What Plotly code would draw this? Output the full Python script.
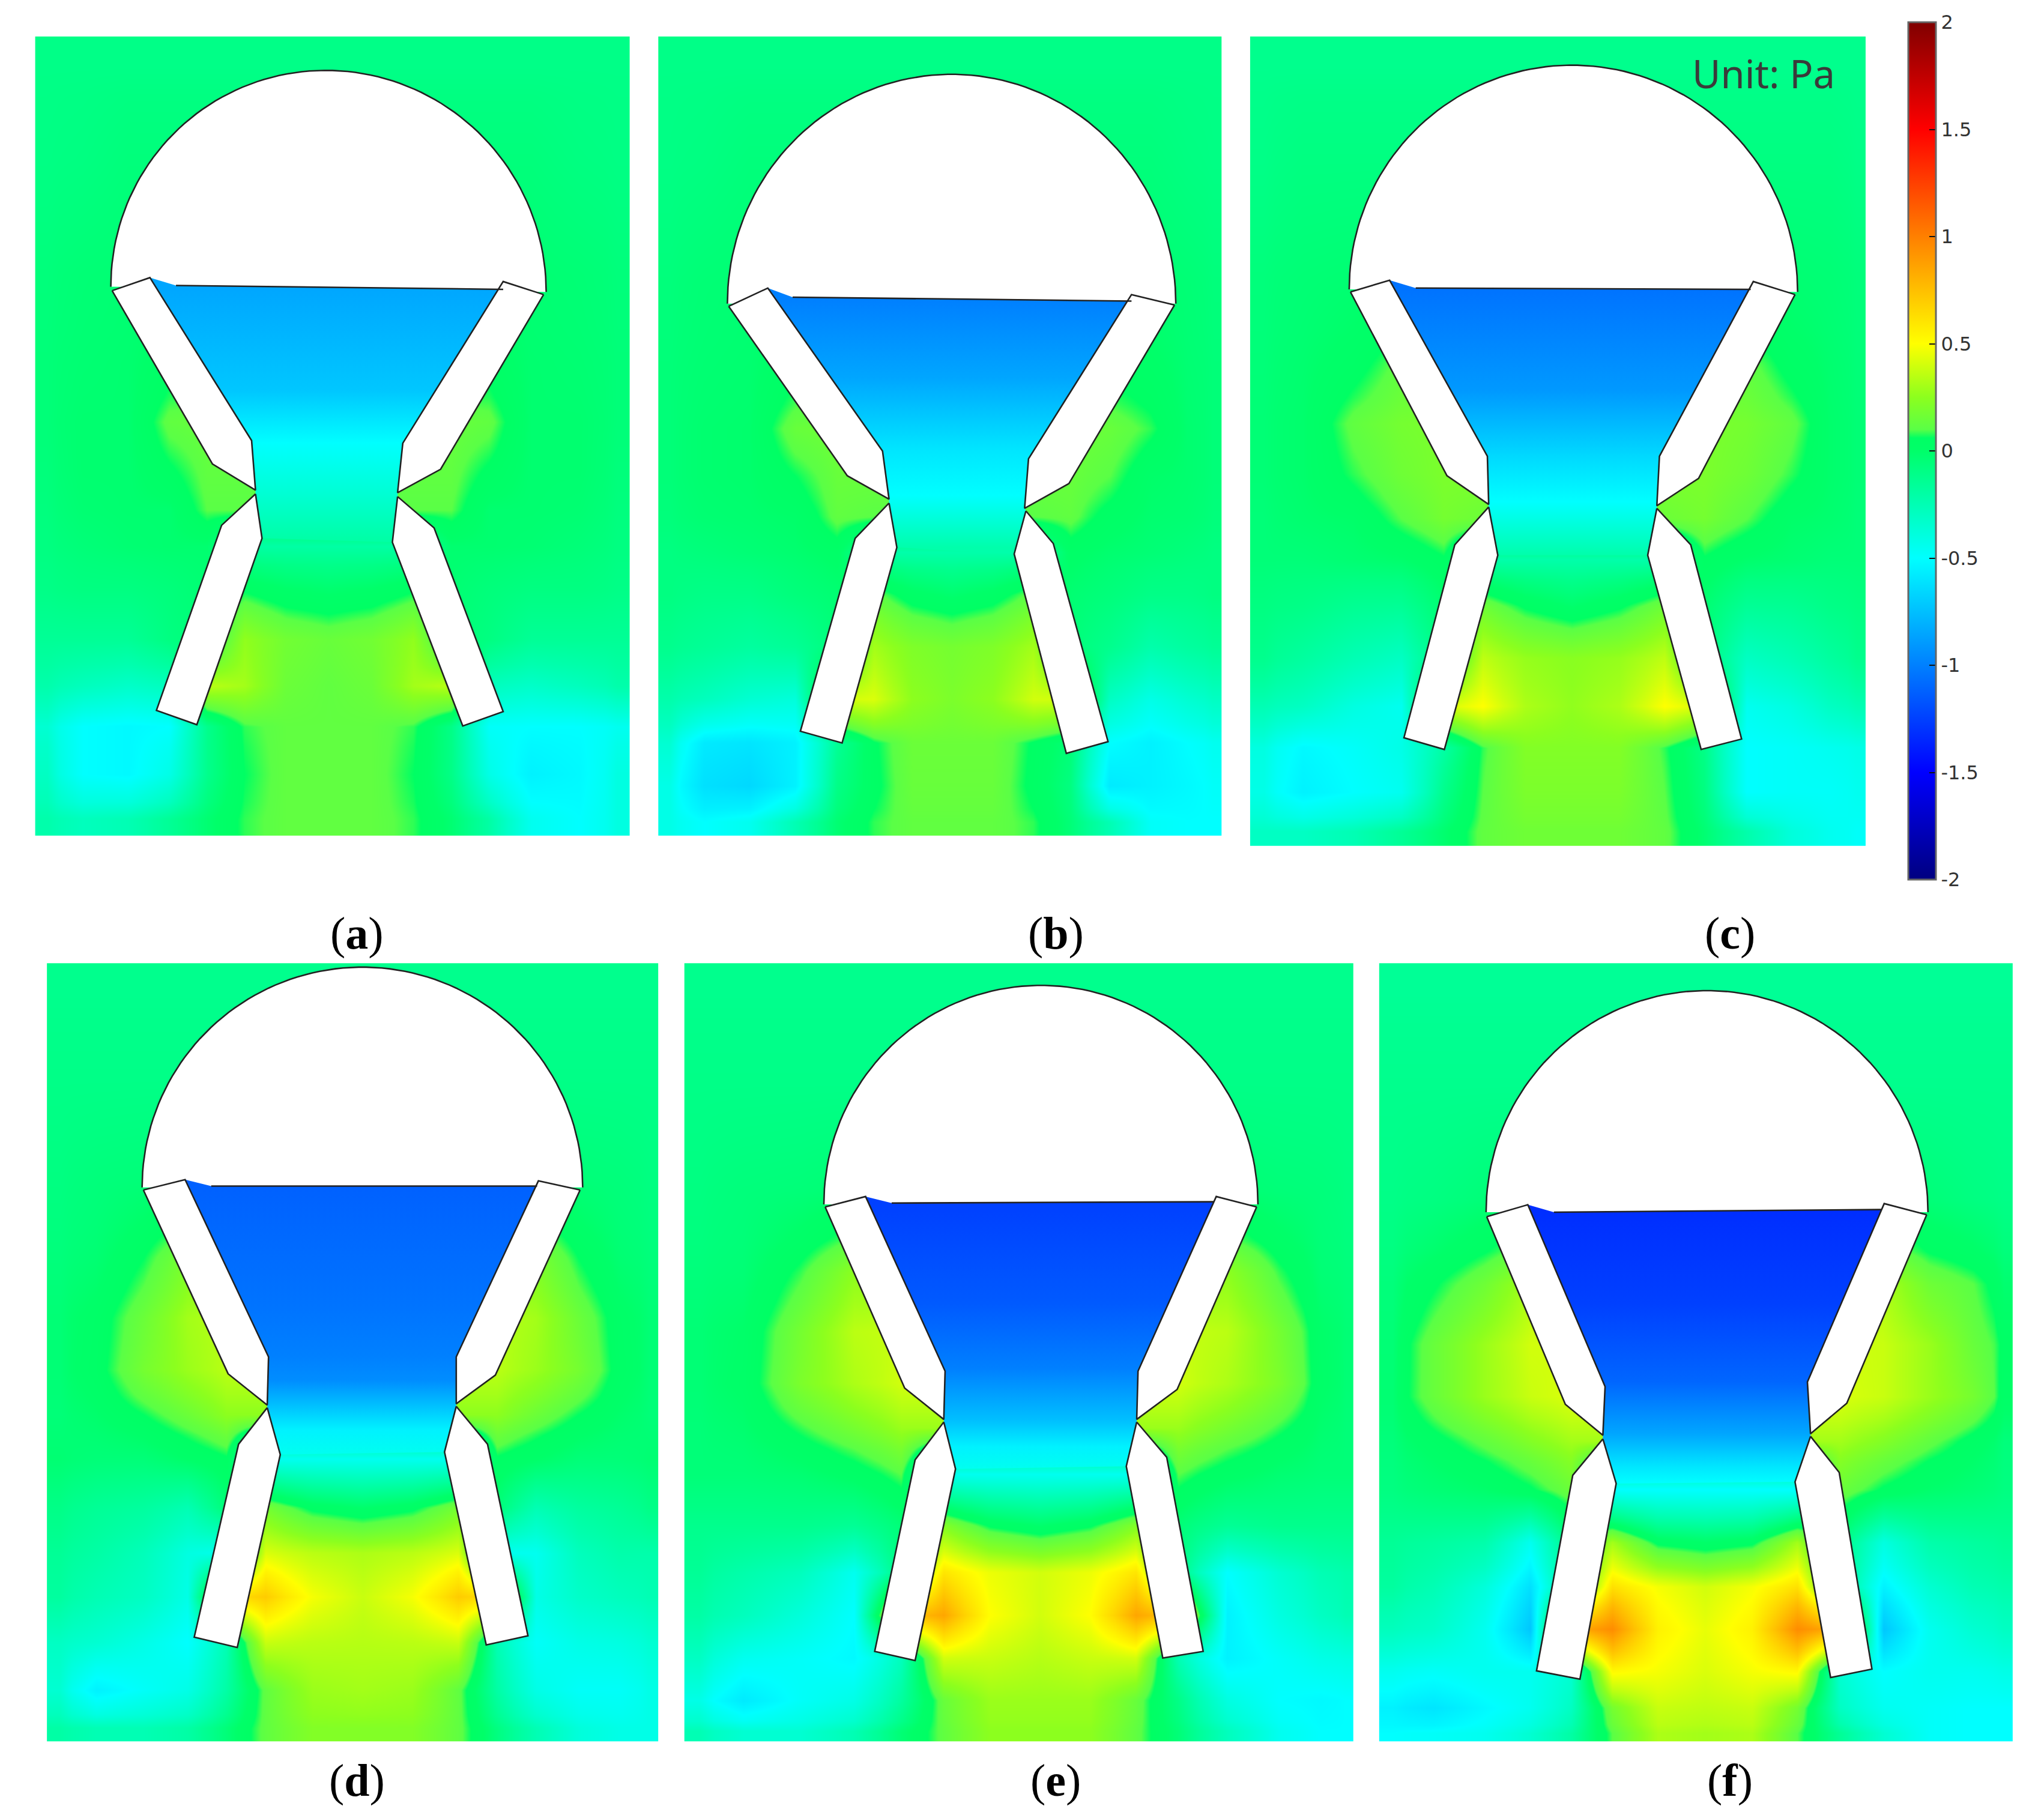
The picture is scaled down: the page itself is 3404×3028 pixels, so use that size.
import numpy as np
import plotly.graph_objects as go

W, H = 3404, 3028
VW = 1568.0
VH = VW * H / W

# Colour scale (value in Pa -> rgb)
CB_VALUES = [-2, -1.5, -1, -0.5, -0.25, 0, 0.06, 0.1, 0.25, 0.5, 1, 1.5, 2]
CB_RGB = [(0,0,128),(0,0,255),(0,128,255),(0,255,255),(0,255,180),(0,255,105),(0,255,100),
          (90,255,70),(140,255,30),(255,255,0),(255,128,0),(255,0,0),(128,0,0)]
TICK_VALUES = [-2, -1.5, -1, -0.5, 0, 0.5, 1, 1.5, 2]
TICK_TEXT = ["-2", "-1.5", "-1", "-0.5", "0", "0.5", "1", "1.5", "2"]
LABELS = ["a", "b", "c", "d", "e", "f"]

# Field grids (hundredths of Pa)
X_A = [27,64,100,130,160,185,220,252,284,320,345,375,405,445,483]
Y_A = [28,120,220,285,325,360,395,415,452,490,530,555,590,641]
F_A = [
[-10,-10,-10,-10,-10,-10,-10,-10,-10,-10,-10,-10,-10,-10,-10],
[-9,-8,-6,-6,-6,-6,-6,-6,-6,-6,-6,-6,-6,-8,-9],
[-6,-4,-3,-3,-3,-3,-3,-3,-3,-3,-3,-3,-3,-4,-6],
[-5,-3,-2,3,3,3,3,3,3,3,3,3,-2,-3,-5],
[-5,-2,-2,12,14,14,14,14,14,14,14,12,-2,-2,-5],
[-6,-2,-2,5,12,12,12,12,12,12,12,5,-2,-2,-6],
[-7,-3,-2,-2,10,10,10,10,10,10,10,-2,-2,-3,-7],
[-8,-5,-3,-2,-2,-20,-20,-20,-20,-20,-2,-2,-3,-5,-8],
[-10,-8,-8,-6,-3,5,0,-2,0,5,-3,-6,-8,-8,-10],
[-15,-15,-15,-8,-4,26,17,14,17,26,-4,-8,-15,-15,-15],
[-22,-28,-32,-28,35,30,15,12,15,30,35,-28,-32,-28,-22],
[-35,-50,-52,-50,-12,8,12,12,12,8,-10,-48,-50,-50,-45],
[-30,-50,-52,-42,-12,6,12,12,12,6,-10,-42,-55,-52,-40],
[-22,-28,-25,-15,-3,8,12,12,12,8,-3,-20,-45,-50,-40],
]
X_B = [505,540,575,610,645,668,700,730,760,795,820,850,885,910,937]
Y_B = [28,120,230,290,330,365,400,420,455,495,540,570,600,641]
F_B = [
[-10,-10,-10,-10,-10,-10,-10,-10,-10,-10,-10,-10,-10,-10,-10],
[-9,-8,-6,-6,-6,-6,-6,-6,-6,-6,-6,-6,-6,-8,-9],
[-6,-4,-3,-2,-2,-2,-2,-2,-2,-2,-2,-2,-3,-4,-6],
[-5,-3,-2,4,4,4,4,4,4,4,4,4,2,-3,-5],
[-5,-2,-1,14,16,16,16,16,16,16,16,14,8,-2,-5],
[-5,-2,-1,6,14,14,14,14,14,14,14,10,0,-2,-5],
[-6,-3,-2,0,12,10,10,10,10,10,12,3,-2,-3,-6],
[-8,-6,-4,-2,2,-22,-22,-22,-22,-22,2,-2,-4,-6,-8],
[-8,-10,-10,-6,-3,12,2,-2,2,12,-3,-6,-10,-10,-8],
[-12,-15,-18,-15,-5,30,21,18,21,30,-5,-12,-22,-18,-15],
[-22,-28,-35,-38,40,42,25,20,25,40,40,-30,-42,-35,-30],
[-35,-58,-60,-55,-15,5,15,15,15,5,-5,-50,-55,-50,-45],
[-42,-62,-65,-55,-10,4,14,14,14,4,-8,-58,-55,-52,-48],
[-42,-50,-45,-25,-3,8,12,12,12,8,-5,-25,-48,-50,-50],
]
X_C = [959,1000,1040,1075,1110,1135,1170,1206,1242,1280,1305,1340,1375,1405,1431]
Y_C = [28,120,222,285,325,365,400,426,465,505,545,572,605,649]
F_C = [
[-12,-12,-12,-12,-12,-12,-12,-12,-12,-12,-12,-12,-12,-12,-12],
[-10,-8,-8,-8,-8,-8,-8,-8,-8,-8,-8,-8,-8,-8,-10],
[-6,-4,-3,-1,-1,-1,-1,-1,-1,-1,-1,-1,-3,-4,-6],
[-5,-2,3,12,12,12,12,12,12,12,12,12,3,-2,-5],
[-4,-1,12,18,20,20,20,20,20,20,20,18,12,-1,-4],
[-4,-1,8,16,20,20,20,20,20,20,20,16,8,-1,-4],
[-5,-2,0,10,18,15,15,15,15,15,18,10,0,-2,-5],
[-5,-5,-3,-1,5,-22,-22,-22,-22,-22,5,-1,-3,-5,-5],
[-8,-10,-14,-15,-3,16,5,-1,5,16,-3,-15,-14,-10,-8],
[-12,-18,-25,-30,-5,36,27,24,27,36,-5,-30,-25,-18,-12],
[-25,-30,-40,-45,40,50,32,26,32,50,40,-45,-40,-30,-25],
[-40,-52,-48,-42,-20,8,22,22,22,8,-10,-50,-48,-45,-42],
[-42,-55,-50,-45,-12,10,20,20,20,10,-8,-50,-48,-48,-45],
[-30,-30,-25,-15,-2,12,16,16,16,12,-3,-22,-38,-45,-48],
]
X_D = [36,75,110,145,175,200,240,278,316,355,380,410,445,475,505]
Y_D = [739,830,910,970,1010,1055,1085,1116,1160,1190,1225,1260,1295,1336]
F_D = [
[-12,-12,-12,-12,-12,-12,-12,-12,-12,-12,-12,-12,-12,-12,-12],
[-10,-10,-10,-10,-10,-10,-10,-10,-10,-10,-10,-10,-10,-10,-10],
[-8,-6,-5,-3,-3,-3,-3,-3,-3,-3,-3,-3,-5,-6,-8],
[-6,-3,6,20,20,20,20,20,20,20,20,20,6,-3,-6],
[-4,2,15,30,35,35,35,35,35,35,35,30,15,2,-4],
[-4,3,18,28,35,35,35,35,35,35,35,28,18,3,-4],
[-5,-1,6,15,25,25,25,25,25,25,25,15,6,-1,-5],
[-3,-5,-5,0,5,-45,-45,-45,-45,-45,5,0,-5,-5,-3],
[-10,-15,-18,-25,-5,18,4,-1,4,18,-5,-25,-18,-15,-10],
[-15,-20,-27,-40,-45,42,35,32,35,42,-45,-45,-28,-22,-22],
[-18,-25,-30,-42,60,70,48,38,48,70,60,-42,-32,-28,-25],
[-30,-35,-42,-50,-25,38,35,34,35,38,-25,-48,-42,-40,-35],
[-35,-55,-48,-42,-20,12,28,30,28,12,-20,-42,-48,-48,-42],
[-20,-25,-25,-20,-5,12,22,22,22,12,-8,-25,-38,-42,-42],
]
X_E = [525,570,615,655,695,720,760,798,836,875,900,940,985,1015,1038]
Y_E = [739,830,923,980,1020,1065,1095,1127,1175,1205,1240,1272,1305,1336]
F_E = [
[-12,-12,-12,-12,-12,-12,-12,-12,-12,-12,-12,-12,-12,-12,-12],
[-10,-10,-10,-10,-10,-10,-10,-10,-10,-10,-10,-10,-10,-10,-10],
[-8,-6,-5,-3,-3,-3,-3,-3,-3,-3,-3,-3,-5,-6,-8],
[-6,-4,8,25,25,25,25,25,25,25,25,25,8,-4,-6],
[-4,0,18,35,38,38,38,38,38,38,38,35,18,0,-4],
[-4,1,20,32,40,40,40,40,40,40,40,32,20,1,-4],
[-5,-2,8,18,28,28,28,28,28,28,28,18,8,-2,-5],
[-5,-5,-3,2,10,-45,-45,-45,-45,-45,10,2,-3,-5,-5],
[-12,-12,-12,-15,-5,22,5,-1,5,22,-5,-15,-12,-12,-12],
[-15,-22,-28,-45,-8,60,46,40,46,60,-8,-50,-35,-25,-22],
[-20,-28,-38,-50,70,85,50,40,50,85,70,-55,-40,-30,-25],
[-30,-45,-48,-52,-28,40,38,34,38,40,-25,-55,-48,-42,-40],
[-42,-58,-48,-42,-18,14,28,28,28,14,-10,-40,-50,-52,-50],
[-25,-35,-35,-25,-4,12,25,25,25,12,-5,-28,-45,-50,-50],
]
X_F = [1058,1100,1140,1175,1205,1235,1272,1308,1344,1380,1410,1445,1480,1515,1544]
Y_F = [739,830,930,990,1030,1075,1105,1138,1190,1215,1250,1285,1310,1336]
F_F = [
[-15,-15,-15,-15,-15,-15,-15,-15,-15,-15,-15,-15,-15,-15,-15],
[-12,-12,-12,-12,-12,-12,-12,-12,-12,-12,-12,-12,-12,-12,-12],
[-10,-8,-5,-3,-3,-3,-3,-3,-3,-3,-3,-3,-5,-8,-10],
[-6,5,16,32,32,32,32,32,32,32,32,32,16,10,-2],
[-4,14,28,40,40,40,40,40,40,40,40,38,28,14,4],
[-3,14,28,38,42,42,42,42,42,42,42,38,28,18,2],
[-6,3,12,22,30,30,30,30,30,30,30,22,12,3,-6],
[-8,-4,-1,5,15,-50,-50,-50,-50,-50,15,5,-1,-4,-8],
[-15,-18,-22,-45,-8,30,4,0,4,30,-8,-40,-22,-18,-15],
[-18,-25,-38,-62,-10,62,48,40,48,62,-10,-55,-35,-25,-22],
[-28,-32,-45,-72,80,95,55,45,55,95,80,-72,-45,-35,-30],
[-45,-48,-45,-45,-35,52,48,42,48,52,-35,-50,-45,-45,-42],
[-55,-60,-52,-45,-30,18,38,36,38,18,-30,-45,-48,-50,-50],
[-50,-48,-45,-35,-20,10,32,30,32,10,-15,-35,-48,-50,-50],
]

# Funnel (liquid) vertical pressure profile: y position and Pa
GY_A = [220,300,340,380,415]
GZ_A = [-0.85,-0.72,-0.5,-0.35,-0.2]
GY_B = [230,290,345,380,420]
GZ_B = [-1.0,-0.85,-0.6,-0.5,-0.22]
GY_C = [222,300,350,385,426]
GZ_C = [-1.05,-0.9,-0.65,-0.5,-0.22]
GY_D = [910,1000,1040,1059,1097,1116]
GZ_D = [-1.12,-1.05,-1.0,-0.95,-0.55,-0.45]
GY_E = [923,1000,1050,1090,1110,1127]
GZ_E = [-1.25,-1.15,-1.0,-0.75,-0.55,-0.45]
GY_F = [930,1000,1060,1100,1125,1138]
GZ_F = [-1.32,-1.25,-1.1,-0.85,-0.6,-0.5]

# Outline of each geometry: dome [left, top, right]; walls; liquid surface
PANELS = {
"a": dict(dome=[(85,220),(252,54),(419,224)],
  ul=[(86,223),(115,213),(193,338),(196,376),(163,356)],
  ll=[(196,379),(201,413),(151,556),(120,545),(170,403)],
  ur=[(417,226),(386,216),(309,340),(305,378),(338,360)],
  lr=[(305,381),(301,416),(355,557),(386,546),(333,405)],
  liq=[(135,219),(386,222)], X=X_A, Y=Y_A, F=F_A, GY=GY_A, GZ=GZ_A),
"b": dict(dome=[(558,233),(730,57),(902,233)],
  ul=[(559,235),(589,221),(677,346),(682,383),(650,365)],
  ll=[(682,386),(688,420),(646,570),(614,561),(656,413)],
  ur=[(901,234),(868,226),(789,352),(786,390),(820,371)],
  lr=[(787,392),(778,425),(818,578),(850,569),(808,417)],
  liq=[(608,228),(868,231)], X=X_B, Y=Y_B, F=F_B, GY=GY_B, GZ=GZ_B),
"c": dict(dome=[(1035,222),(1206,50),(1379,224)],
  ul=[(1036,224),(1066,215),(1141,350),(1142,387),(1110,365)],
  ll=[(1142,389),(1149,426),(1108,575),(1077,566),(1116,418)],
  ur=[(1377,226),(1345,216),(1273,350),(1271,388),(1303,367)],
  lr=[(1271,390),(1264,426),(1305,575),(1336,567),(1297,418)],
  liq=[(1086,221),(1343,222)], X=X_C, Y=Y_C, F=F_C, GY=GY_C, GZ=GZ_C),
"d": dict(dome=[(109,911),(278,742),(447,911)],
  ul=[(110,913),(142,905),(206,1041),(205,1078),(175,1054)],
  ll=[(205,1080),(215,1116),(182,1264),(149,1256),(183,1108)],
  ur=[(445,913),(413,906),(350,1041),(350,1077),(380,1055)],
  lr=[(350,1079),(341,1114),(373,1262),(405,1255),(374,1108)],
  liq=[(162,910),(412,910)], X=X_D, Y=Y_D, F=F_D, GY=GY_D, GZ=GZ_D),
"e": dict(dome=[(632,924),(798,756),(965,924)],
  ul=[(633,926),(664,918),(725,1052),(724,1089),(694,1065)],
  ll=[(724,1091),(733,1127),(702,1274),(671,1267),(702,1120)],
  ur=[(964,926),(933,918),(873,1052),(872,1089),(903,1066)],
  lr=[(872,1091),(864,1125),(892,1272),(923,1267),(895,1118)],
  liq=[(684,923),(931,922)], X=X_E, Y=Y_E, F=F_E, GY=GY_E, GZ=GZ_E),
"f": dict(dome=[(1140,930),(1308,760),(1479,930)],
  ul=[(1140.5,933.5),(1172,924.3),(1231.3,1063.8),(1229.6,1101.2),(1200.8,1077.4)],
  ll=[(1229.6,1104),(1239.8,1138.2),(1212,1288.3),(1178.7,1281.9),(1206.5,1131.8)],
  ur=[(1478,932),(1445.4,923.4),(1386.5,1060.3),(1388.9,1100),(1416.7,1076.6)],
  lr=[(1388.9,1102),(1377,1136.9),(1404.3,1287),(1436,1280.6),(1410.9,1129.7)],
  liq=[(1192,930),(1443.2,928)], X=X_F, Y=Y_F, F=F_F, GY=GY_F, GZ=GZ_F),
}
LABEL_POS = {"a":(274,716),"b":(810,716),"c":(1327,716),"d":(274,1366),"e":(810,1366),"f":(1327,1366)}

def z2rgb(v):
    c = [np.interp(v, CB_VALUES, [p[i] for p in CB_RGB]) for i in range(3)]
    return "rgb(%d,%d,%d)" % tuple(int(round(t)) for t in c)

colorscale = [[(v + 2) / 4, "rgb(%d,%d,%d)" % c] for v, c in zip(CB_VALUES, CB_RGB)]

def edges(c):
    c = list(c)
    return [c[0]] + [(a + b) / 2 for a, b in zip(c[:-1], c[1:])] + [c[-1]]

def polys(*ps):
    xs, ys = [], []
    for p in ps:
        q = list(p) + [p[0]]
        xs += [a for a, _ in q] + [None]
        ys += [b for _, b in q] + [None]
    return xs, ys

fig = go.Figure()
LINE = "#222222"
LW = 2.6
for key in LABELS:
    p = PANELS[key]
    fig.add_trace(go.Heatmap(x=edges(p["X"]), y=edges(p["Y"]), z=np.array(p["F"]) / 100.0,
                             coloraxis="coloraxis", zsmooth="best", hoverinfo="skip"))
    (lx, ly), (tx, ty), (rx, ry) = p["dome"]
    t = np.linspace(0, np.pi, 90)
    cx = (lx + rx) / 2
    ax = cx - (rx - lx) / 2 * np.cos(t)
    base = ly + (ry - ly) * (ax - lx) / (rx - lx)
    ay = base - ((ly + ry) / 2 - ty) * np.sin(t)
    fig.add_trace(go.Scatter(x=ax, y=ay, mode="lines", fill="toself", fillcolor="white",
                             line=dict(color=LINE, width=LW), hoverinfo="skip", showlegend=False))
    ul, ll, ur, lr = p["ul"], p["ll"], p["ur"], p["lr"]
    liq = p["liq"]
    funnel = [ul[1], liq[0], liq[1], ur[2], ur[3], lr[0], lr[1], ll[1], ll[0], ul[3], ul[2]]
    fx, fy = polys(funnel)
    y0, y1 = p["GY"][0], p["GY"][-1]
    stops = [[(y - y0) / (y1 - y0), z2rgb(z)] for y, z in zip(p["GY"], p["GZ"])]
    fig.add_trace(go.Scatter(x=fx[:-1], y=fy[:-1], mode="none", fill="toself",
                             fillgradient=dict(type="vertical", colorscale=stops, start=y0, stop=y1),
                             hoverinfo="skip", showlegend=False))
    wx, wy = polys(ul, ll, ur, lr)
    fig.add_trace(go.Scatter(x=wx, y=wy, mode="lines", fill="toself", fillcolor="white",
                             line=dict(color=LINE, width=LW), hoverinfo="skip", showlegend=False))
    fig.add_trace(go.Scatter(x=[liq[0][0], liq[1][0]], y=[liq[0][1], liq[1][1]],
                             mode="lines", line=dict(color=LINE, width=LW), hoverinfo="skip", showlegend=False))

annotations = [dict(x=LABEL_POS[k][0], y=LABEL_POS[k][1], xref="x", yref="y", text="(<b>%s</b>)" % k,
                    showarrow=False, font=dict(family="Liberation Serif", size=76, color="black"))
               for k in LABELS]
annotations.append(dict(x=1353, y=56, xref="x", yref="y", text="Unit: Pa", showarrow=False,
                        font=dict(family="Noto Sans", size=65, color="#3a3a3a")))

fig.update_layout(
    width=W, height=H, paper_bgcolor="white", plot_bgcolor="white",
    margin=dict(l=0, r=0, t=0, b=0, pad=0, autoexpand=False), showlegend=False,
    xaxis=dict(range=[0, VW], visible=False, fixedrange=True),
    yaxis=dict(range=[VH, 0], visible=False, fixedrange=True),
    coloraxis=dict(cmin=-2, cmax=2, colorscale=colorscale, colorbar=dict(
        x=1464 / VW, xanchor="left", xpad=0, ypad=0, y=1 - 346 / VH, yanchor="middle",
        thickness=46, thicknessmode="pixels", len=(675 - 17) / VH, lenmode="fraction",
        outlinecolor="#666666", outlinewidth=3, tickmode="array", tickvals=TICK_VALUES, ticktext=TICK_TEXT,
        ticks="inside", ticklen=12, tickcolor="#111111", tickwidth=2,
        tickfont=dict(family="DejaVu Sans", size=32, color="#333333"))),
    annotations=annotations,
)
fig.write_html("out.html", config={"displayModeBar": False},
               post_script="document.body.style.margin='0';document.documentElement.style.overflow='hidden';")
